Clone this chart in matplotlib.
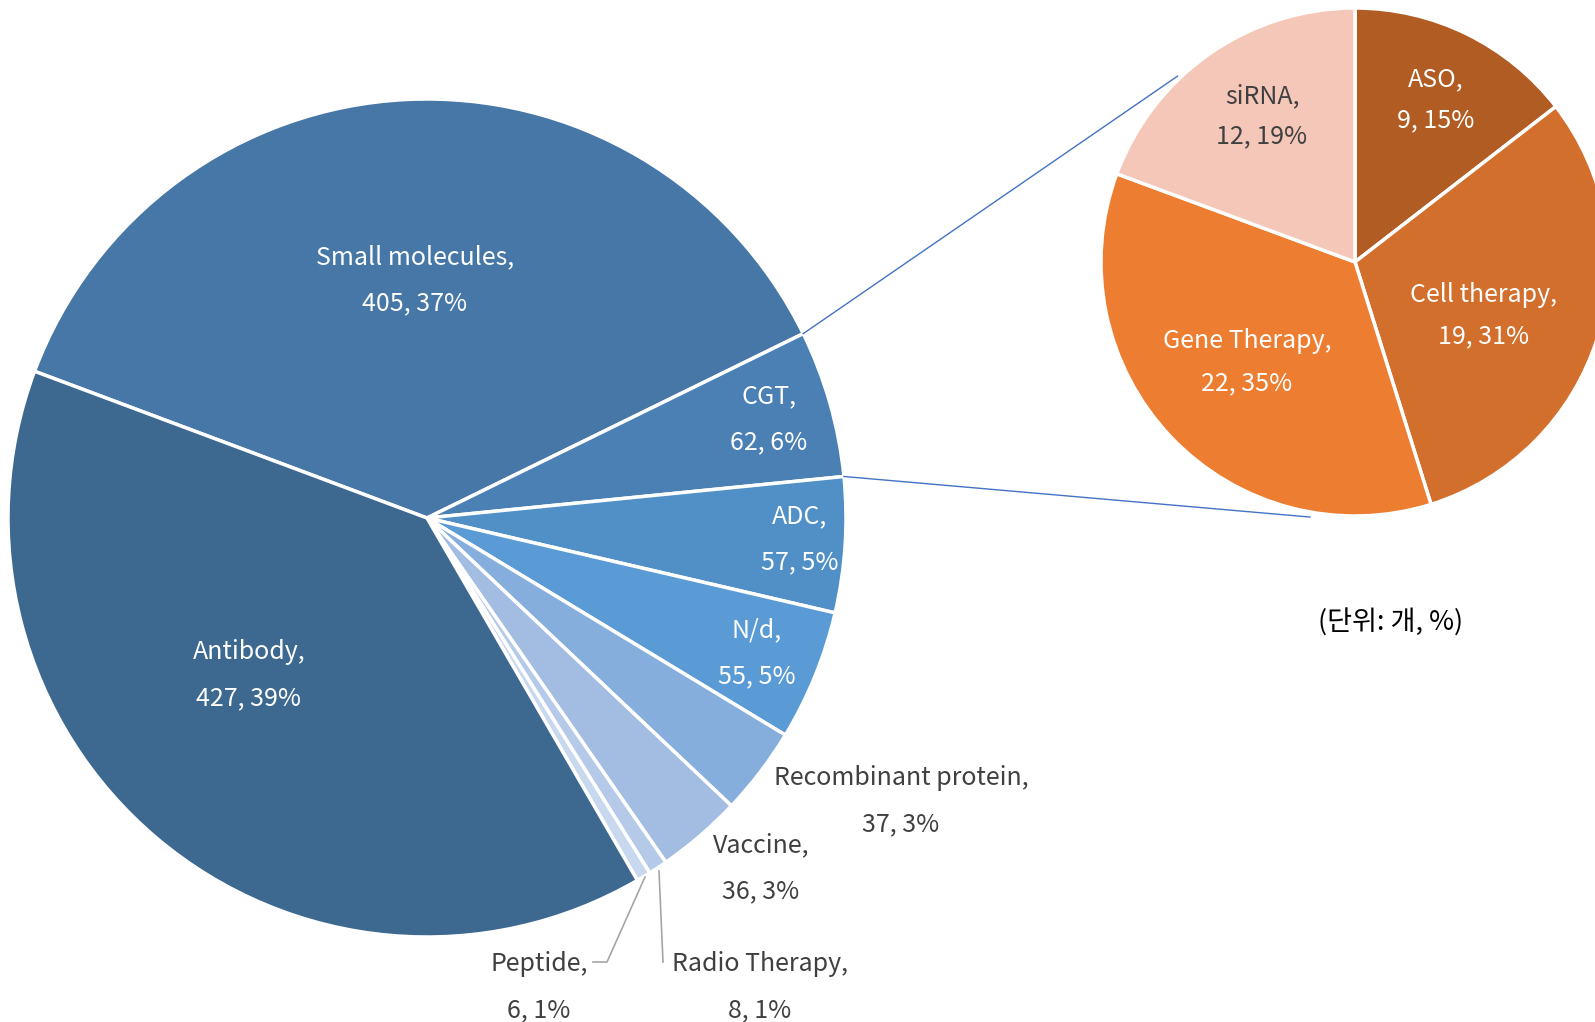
import numpy as np
import matplotlib
matplotlib.use('Agg')
import matplotlib.pyplot as plt

plt.rcParams['font.family'] = ['Noto Sans CJK KR', 'DejaVu Sans']

# main pie data (clockwise from the Antibody / Small molecules border)
main_labels = ['Small molecules', 'CGT', 'ADC', 'N/d', 'Recombinant protein',
               'Vaccine', 'Radio Therapy', 'Peptide', 'Antibody']
main_values = [405, 62, 57, 55, 37, 36, 8, 6, 427]
main_pct = [37, 6, 5, 5, 3, 3, 1, 1, 39]

# CGT breakdown
cgt_labels = ['ASO', 'Cell therapy', 'Gene Therapy', 'siRNA']
cgt_values = [9, 19, 22, 12]
cgt_pct = [15, 31, 35, 19]

main_colors = ['#4677A7', '#4B80B5', '#5190C7', '#5A9BD6', '#85AEDC',
               '#A3BDE2', '#B5CAE8', '#C8D8EE', '#3D6990']
cgt_colors = ['#B05C23', '#D26F2C', '#ED7D31', '#F4C7B8']

W, H = 1595, 1022
fig = plt.figure(figsize=(W / 100, H / 100), dpi=100)
ax = fig.add_axes([0, 0, 1, 1])

def Y(y):
    return H - y

c1 = (427, Y(518)); r1 = 419
c2 = (1355, Y(262)); r2 = 254
start1 = 159.5

ax.pie(main_values, colors=main_colors, startangle=start1, counterclock=False,
       center=c1, radius=r1, wedgeprops=dict(edgecolor='white', linewidth=2.5))
ax.pie(cgt_values, colors=cgt_colors, startangle=90, counterclock=False,
       center=c2, radius=r2, wedgeprops=dict(edgecolor='white', linewidth=2.5))

ax.set_xlim(0, W)
ax.set_ylim(0, H)
ax.set_aspect('equal')
ax.axis('off')

# connector lines from the CGT slice to the second pie
tot = sum(main_values)
a_top = np.radians(start1 - 360 * main_values[0] / tot)
a_bot = np.radians(start1 - 360 * (main_values[0] + main_values[1]) / tot)
p1 = (c1[0] + r1 * np.cos(a_top), c1[1] + r1 * np.sin(a_top))
p2 = (c1[0] + r1 * np.cos(a_bot), c1[1] + r1 * np.sin(a_bot))
q1 = (c2[0] + 257 * np.cos(np.radians(133.7)), c2[1] + 257 * np.sin(np.radians(133.7)))
q2 = (c2[0] + 259 * np.cos(np.radians(-100)), c2[1] + 259 * np.sin(np.radians(-100)))
ax.plot([p1[0], q1[0]], [p1[1], q1[1]], color='#4472C4', lw=1)
ax.plot([p2[0], q2[0]], [p2[1], q2[1]], color='#4472C4', lw=1)

# label positions (pixel coords of the two text lines' centres)
main_pos = [(415, 257), (769, 396), (800, 516), (757, 630), (901, 778),
            (761, 845), (760, 964), (539, 964), (249, 652)]
main_tc = ['white'] * 4 + ['#404040'] * 4 + ['white']
cgt_pos = [(1436, 79), (1484, 295), (1247, 341), (1262, 96)]
cgt_tc = ['white', 'white', 'white', '#404040']
fs = 18

for lab, v, p, (x, y), tc in zip(main_labels, main_values, main_pct, main_pos, main_tc):
    ax.text(x, Y(y), lab + ',', ha='center', va='center', fontsize=fs, color=tc)
    ax.text(x, Y(y + 46), f'{v}, {p}%', ha='center', va='center', fontsize=fs, color=tc)

gaps = [41, 41, 42, 40]
for lab, v, p, (x, y), tc, g in zip(cgt_labels, cgt_values, cgt_pct, cgt_pos, cgt_tc, gaps):
    ax.text(x, Y(y), lab + ',', ha='center', va='center', fontsize=fs, color=tc)
    ax.text(x, Y(y + g), f'{v}, {p}%', ha='center', va='center', fontsize=fs, color=tc)

# leader lines for the tiny slices
ax.plot([645, 607, 593], [Y(877), Y(962), Y(962)], color='#A6A6A6', lw=1.2)
ax.plot([659, 663], [Y(871), Y(962)], color='#A6A6A6', lw=1.2)

ax.text(1391, Y(623), '(단위: 개, %)', ha='center', va='center', fontsize=19.5,
        color='black')

fig.savefig('out.png', dpi=100)
